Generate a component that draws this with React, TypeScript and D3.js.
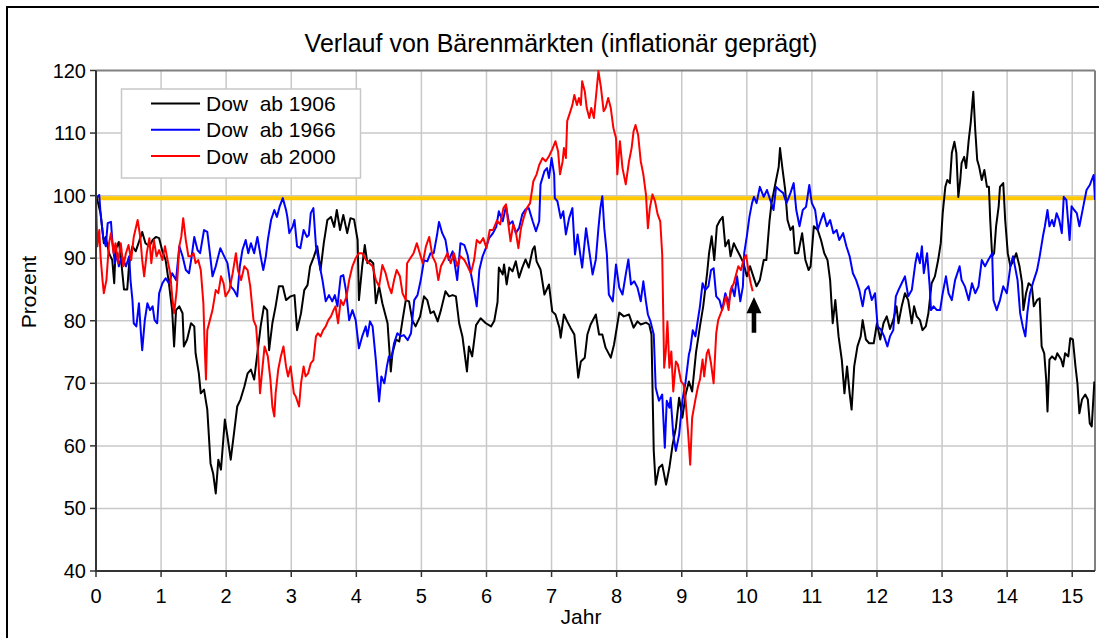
import React from 'react';
import * as d3 from 'd3';

// ---- Data (Jahr, Prozent) ----
const black1906T = [0,0.02,0.07,0.12,0.15,0.2,0.25,0.28,0.3,0.35,0.38,0.43,0.48,0.51,0.56,0.61,0.66,0.71,0.76,0.82,0.87,0.92,0.97,1.02,1.07,1.12,1.17,1.2,1.23,1.28,1.33,1.35,1.4,1.46,1.51,1.53,1.58,1.61,1.66,1.71,1.76,1.8,1.84,1.88,1.92,1.98,2.02,2.07,2.12,2.17,2.22,2.28,2.33,2.38,2.43,2.48,2.53,2.58,2.63,2.66,2.71,2.76,2.81,2.87,2.92,2.99,3.05,3.09,3.15,3.2,3.25,3.29,3.35,3.4,3.45,3.5,3.555,3.61,3.66,3.7,3.75,3.8,3.86,3.91,3.965,4.02,4.04,4.09,4.13,4.17,4.21,4.26,4.3,4.35,4.4,4.48,4.53,4.555,4.61,4.66,4.71,4.76,4.81,4.86,4.91,4.98,5.04,5.09,5.14,5.19,5.25,5.3,5.37,5.425,5.48,5.53,5.58,5.63,5.7,5.73,5.78,5.84,5.91,5.99,6.07,6.12,6.17,6.19,6.25,6.27,6.31,6.35,6.4,6.45,6.5,6.55,6.6,6.65,6.71,6.74,6.77,6.83,6.89,6.96,7.01,7.06,7.12,7.14,7.19,7.24,7.29,7.35,7.41,7.45,7.51,7.55,7.6,7.68,7.73,7.78,7.83,7.91,7.96,8.04,8.11,8.19,8.26,8.32,8.37,8.45,8.5,8.535,8.57,8.6,8.65,8.7,8.76,8.81,8.86,8.91,8.96,9.01,9.06,9.11,9.16,9.22,9.28,9.33,9.39,9.42,9.46,9.5,9.54,9.59,9.63,9.67,9.72,9.75,9.8,9.85,9.9,9.95,10,10.05,10.1,10.15,10.2,10.26,10.3,10.35,10.38,10.45,10.49,10.51,10.55,10.59,10.625,10.67,10.71,10.74,10.79,10.85,10.9,10.95,10.98,11.03,11.09,11.14,11.19,11.24,11.28,11.32,11.36,11.41,11.46,11.5,11.54,11.58,11.61,11.65,11.7,11.75,11.78,11.83,11.88,11.95,12,12.05,12.1,12.15,12.2,12.25,12.3,12.33,12.38,12.43,12.48,12.535,12.57,12.61,12.66,12.7,12.75,12.79,12.84,12.89,12.94,12.98,13.01,13.05,13.08,13.12,13.15,13.19,13.22,13.25,13.28,13.3,13.34,13.37,13.41,13.44,13.48,13.51,13.54,13.57,13.61,13.65,13.69,13.72,13.74,13.77,13.8,13.83,13.87,13.89,13.94,13.97,14.01,14.05,14.1,14.14,14.19,14.23,14.25,14.29,14.33,14.38,14.41,14.46,14.5,14.53,14.57,14.6,14.62,14.65,14.69,14.74,14.77,14.83,14.86,14.89,14.94,14.97,15.01,15.05,15.08,15.11,15.15,15.2,15.24,15.27,15.3,15.34];
const black1906V = [100,99.3,97.2,92.4,93.4,90.8,89.7,86,91.3,92.6,90.3,85,85,89.2,91.9,91.1,92.6,94.2,92.4,91.9,92.9,93.4,93.2,91.1,89.7,86,81.7,75.9,81.7,82.3,81.2,75.9,77,79.6,79.1,74.8,71.6,68.4,69,65.8,57.2,55.6,52.4,57.8,56.2,64.2,61.5,57.8,62,66.3,67.4,69.5,71.6,72.2,70.6,74.8,79.1,82.3,81.7,75.3,79.6,82.3,85.5,85.5,83.3,83.9,84.1,78.5,81.2,84.9,85.7,88.7,90.3,91.9,88.1,92.4,96.1,96.6,95,97.7,94.5,96.9,94,96.4,96.2,92.9,83.3,88.7,92.1,89.2,89.7,89.2,82.8,85.5,82.8,79.6,71.9,74.8,77,76.7,80.1,83.3,83.1,80.1,79.1,80.7,83.9,83.3,81.2,81.5,79.9,81.7,84.7,83.9,84.1,83.9,79.6,77.5,71.9,75.9,74.3,79.3,80.4,79.6,79.1,80,83,88.5,87.4,89,85.8,88.5,87.9,89.5,86.9,88.5,89.8,88.5,91.4,91.9,89.5,88.2,84.2,85.8,81.5,81,78.9,77.3,81,79.9,78.9,77.8,70.9,73.5,74.1,77.8,79.4,81,77.8,77.8,75.7,74.1,76.2,81.3,80.7,81,78.9,79.9,79.4,79.7,79.4,77.8,59.2,53.8,56.5,57,53.8,56.5,60.2,62.9,67.7,64.5,68.2,70.3,68.7,75,79.1,82.3,87.6,90.8,93.5,89.7,95.1,96.1,96.6,91.9,92.9,90.3,92.4,91.3,90.3,89.2,87.1,88.7,87.1,85.5,86.5,89.7,89.7,96.1,98.8,102.5,104.6,107.6,104.1,100.9,96.1,94.5,95.1,90.8,90.8,94,89.7,88.1,88.7,95.1,94.5,92.9,90.8,89.7,86.5,79.6,83.3,77.5,73.7,68.4,72.7,68.4,65.8,72.7,75.9,77.5,80.1,77,76.4,76.4,79.6,77,79.6,80.7,78.7,80.1,82.3,79.6,82.3,84.4,83.3,79.6,82.3,80.7,80.1,78.5,79.1,81.2,86,87.1,89.7,92.4,97.2,101.4,102.5,102,106.8,108.6,106.8,99.8,102.5,105.2,106.2,104.4,108.9,111.6,116.6,110.5,105.7,104.6,102.5,104.1,101.4,101.4,96.1,90.3,90.8,95.1,98.3,101.4,102,96.1,90.8,88.7,89.7,90.8,88.7,86,81.7,84.4,86,85.5,82.3,83.3,83.6,75.9,74.8,70.6,65.5,73.8,74.3,73.8,74.8,73.8,72.7,74.8,74.3,77.2,77,72.7,70,65.2,67.4,68.2,67.4,63.6,63.1,70.3];

const blue1966T = [0,0.05,0.07,0.11,0.15,0.18,0.23,0.25,0.29,0.33,0.35,0.4,0.46,0.51,0.53,0.56,0.58,0.62,0.66,0.69,0.71,0.75,0.79,0.83,0.87,0.9,0.94,0.97,1.02,1.07,1.12,1.17,1.23,1.28,1.33,1.38,1.43,1.47,1.51,1.56,1.6,1.66,1.71,1.75,1.79,1.84,1.91,1.97,2.02,2.07,2.12,2.17,2.21,2.25,2.3,2.34,2.38,2.43,2.48,2.53,2.57,2.61,2.64,2.69,2.74,2.78,2.82,2.87,2.92,2.94,2.97,3.02,3.05,3.09,3.14,3.19,3.24,3.27,3.3,3.34,3.38,3.43,3.48,3.53,3.58,3.63,3.67,3.71,3.76,3.8,3.84,3.89,3.94,3.99,4.04,4.09,4.145,4.17,4.21,4.25,4.3,4.35,4.385,4.43,4.47,4.5,4.54,4.58,4.63,4.68,4.73,4.79,4.84,4.89,4.94,4.99,5.04,5.09,5.14,5.19,5.24,5.27,5.32,5.37,5.42,5.48,5.51,5.55,5.6,5.66,5.71,5.76,5.81,5.85,5.89,5.94,5.99,6.04,6.1,6.15,6.19,6.25,6.3,6.35,6.4,6.45,6.5,6.55,6.6,6.65,6.71,6.76,6.81,6.83,6.89,6.93,6.96,7,7.04,7.05,7.09,7.14,7.18,7.22,7.27,7.32,7.36,7.4,7.44,7.47,7.53,7.58,7.63,7.68,7.72,7.75,7.78,7.81,7.85,7.88,7.94,7.99,8.04,8.09,8.14,8.18,8.22,8.27,8.32,8.37,8.41,8.45,8.48,8.52,8.57,8.6,8.65,8.7,8.74,8.77,8.81,8.83,8.87,8.91,8.96,9.01,9.06,9.11,9.13,9.17,9.21,9.24,9.28,9.32,9.36,9.41,9.45,9.49,9.53,9.58,9.62,9.67,9.72,9.77,9.81,9.85,9.9,9.94,9.96,10,10.04,10.08,10.11,10.15,10.2,10.26,10.31,10.36,10.41,10.45,10.5,10.56,10.61,10.67,10.72,10.76,10.81,10.86,10.91,10.96,10.999,11.05,11.09,11.14,11.18,11.23,11.28,11.33,11.38,11.42,11.48,11.53,11.58,11.63,11.68,11.73,11.78,11.82,11.87,11.92,11.97,12.01,12.06,12.11,12.16,12.2,12.25,12.29,12.33,12.38,12.43,12.48,12.535,12.59,12.62,12.66,12.69,12.72,12.77,12.81,12.83,12.87,12.92,12.97,13.01,13.06,13.1,13.15,13.2,13.27,13.3,13.35,13.41,13.46,13.51,13.56,13.61,13.66,13.71,13.77,13.79,13.84,13.89,13.94,13.995,14.05,14.09,14.12,14.16,14.2,14.24,14.28,14.31,14.35,14.41,14.46,14.5,14.55,14.58,14.62,14.65,14.69,14.72,14.76,14.8,14.84,14.87,14.91,14.96,14.99,15.03,15.07,15.11,15.15,15.18,15.22,15.27,15.3,15.33,15.35];
const blue1966V = [99.6,100.1,97.2,93.4,91.9,95.6,95.8,92.9,89.2,90.8,88.7,90.3,88.7,90.3,86.5,83.3,79.6,79.1,82.8,78,75.3,80.1,82.8,81.7,82.3,80.1,79.6,84.4,86,86.8,86,87.6,86.5,91.9,90.3,88.1,87.6,90.3,93.4,91.3,90.8,94.5,94.2,90.8,87.1,88.7,91.6,90.3,89.2,85.5,84.9,83.9,88.7,91.3,92.9,90.8,92.4,90.8,93.4,90.3,88.1,90.3,92.9,96.1,97.7,96.6,98.2,99.6,97.7,96.6,94,95,96.1,91.9,91.6,94.5,93.4,93.7,97.2,98,91.9,89.2,86.5,83.1,84.1,83.1,84.1,82.3,87.1,87.3,84.9,80.1,81.7,80.1,75.6,77.5,79.1,77.5,79.9,79.1,73.7,67.1,71.1,70,72.7,74.3,74,76.4,78,77.5,77.7,76.9,78,83.3,84.1,86.5,89.7,89.5,90.8,90.8,93.7,95.8,94,92.9,89.7,91.1,89.2,86.5,92.4,92.1,90.5,87.6,84.9,82.3,88.1,90.3,91.6,93.2,94,95,97.5,95.9,98.3,95.4,95.9,94,94.8,97,97.8,98,95.9,94.3,95.9,101.8,103.9,104.4,102.8,106,103.4,99.6,99.1,96.4,97.5,93.8,96.4,98,90.6,93.8,90.6,88.5,94.8,91.1,87.4,89.8,94.8,98,99.9,94.8,90.6,84.2,83.1,89,85.3,84.2,87.4,89.8,85.8,86.3,85.3,83.1,86.3,83.1,81,79.9,77.8,69.3,67.2,68.2,59.7,67.2,66.1,67.7,61.8,59.2,61.8,67.2,70.3,74.6,75.4,78.5,77.5,79.6,82.3,86,84.9,85.5,88.1,88.4,83.9,83.3,81.7,84.4,82.8,85.5,83.9,87.1,83.1,85.5,90.8,93.5,96.6,98.8,99.8,98.8,101.4,99.8,100.9,99.3,97.7,101.4,100.9,100.4,98.8,100.4,102,97.7,95.1,97.7,98.2,101.7,98.8,97.7,94.5,96.1,97.2,95.1,96.1,94,94.5,92.9,94,91.9,90.3,87.6,86.5,84.9,82.3,84.9,85.5,83.3,84.4,79.1,78.6,77.5,75.9,77.5,78.5,83.9,84.9,86,87.1,83.9,84.9,89.2,90.8,89.2,91.9,87.6,90.8,85.5,81.7,82.3,81.7,81.7,84.4,87.1,84.4,83.3,86.5,88.7,86.5,85.5,83.3,86,84.4,85.5,89.7,88.7,89.7,90.8,83.3,81.7,83.3,85.5,84.4,88.7,90.3,88.7,86.5,81.2,79.1,77.5,81.2,84.4,86.5,88.1,90.3,93.5,95.1,97.7,95.1,96.1,95.1,97.2,96.1,94,99.8,99.3,92.9,98.3,97.7,97.2,95.1,97.2,98.8,100.9,101.7,102.5,103.3,99.3];

const red2000T = [0,0.02,0.05,0.07,0.1,0.12,0.16,0.2,0.23,0.27,0.3,0.34,0.38,0.42,0.46,0.5,0.54,0.58,0.64,0.68,0.71,0.74,0.78,0.82,0.85,0.89,0.93,0.97,1.02,1.06,1.1,1.14,1.17,1.2,1.24,1.28,1.31,1.34,1.38,1.42,1.46,1.5,1.53,1.57,1.61,1.65,1.67,1.69,1.71,1.75,1.79,1.84,1.88,1.92,1.96,1.99,2.05,2.1,2.15,2.18,2.23,2.28,2.33,2.37,2.42,2.46,2.49,2.52,2.56,2.59,2.64,2.68,2.71,2.74,2.76,2.8,2.84,2.88,2.92,2.95,2.99,3.04,3.07,3.12,3.15,3.19,3.22,3.26,3.3,3.34,3.38,3.41,3.45,3.49,3.53,3.57,3.61,3.65,3.68,3.72,3.76,3.8,3.85,3.89,3.94,3.99,4.04,4.09,4.15,4.2,4.25,4.3,4.35,4.4,4.45,4.5,4.54,4.58,4.62,4.67,4.71,4.76,4.78,4.83,4.88,4.93,4.96,5.02,5.07,5.12,5.17,5.22,5.26,5.3,5.35,5.4,5.45,5.5,5.55,5.6,5.66,5.71,5.76,5.81,5.85,5.9,5.95,6,6.05,6.1,6.16,6.21,6.26,6.3,6.33,6.37,6.41,6.45,6.49,6.53,6.57,6.62,6.67,6.72,6.77,6.81,6.86,6.91,6.96,7.01,7.06,7.1,7.13,7.17,7.19,7.22,7.24,7.29,7.32,7.35,7.39,7.42,7.45,7.47,7.51,7.54,7.58,7.61,7.65,7.695,7.72,7.76,7.8,7.83,7.87,7.91,7.95,7.99,8.01,8.05,8.09,8.14,8.19,8.23,8.26,8.29,8.33,8.37,8.41,8.45,8.48,8.51,8.55,8.59,8.63,8.67,8.7,8.73,8.755,8.78,8.81,8.84,8.87,8.91,8.94,8.99,9.03,9.06,9.1,9.13,9.16,9.21,9.25,9.28,9.32,9.345,9.385,9.41,9.45,9.49,9.53,9.56,9.6,9.64,9.68,9.72,9.75,9.8,9.84,9.87,9.91,9.95,9.99,10.03,10.06,10.09];
const red2000V = [99.6,91.9,94.5,90.3,86.5,84.4,86.5,92.4,94,90.8,92.4,89.2,92.4,88.7,90.8,92.1,89.7,93.4,96.1,93.4,89.7,87.1,90.8,93.2,89.2,92.9,90.3,91.3,89.7,91.9,89.7,87.6,83.9,81.2,84.9,91.9,93.4,96.4,92.9,90.3,90.3,90.8,89.2,89.7,88.1,82.8,75.9,70.6,78.5,80.1,81.7,84.9,84.4,87.1,86,83.9,84.9,87.6,90.8,88.1,86.5,88.7,88.1,85.5,80.1,79.1,74.8,68.4,72.7,75.9,74.3,70.6,66.3,64.7,68.4,72.2,74.3,75.9,72.7,71.1,72.7,68.4,67.9,66.3,70,72.7,71.1,71.6,73.2,73.7,77.5,78,77.5,78.5,79.1,80.1,80.7,81.7,82.3,79.6,83.3,82.5,83.9,86.5,88.7,90,90.8,90.8,89.7,89.2,88.7,86.5,85.5,88.9,87.6,85.5,84.4,86.5,88.1,87.1,84.4,83.3,89.2,90,90.8,92.4,91.3,89.2,91.9,93.4,90.3,89.2,86.5,88.7,89.7,90.8,89.2,90.8,88.7,90.3,89.7,88.7,87.6,89.7,92.9,92.4,93.2,91.6,94.5,94.5,96,95.4,98,98.6,95.9,92.7,95.4,94.3,91.6,94.8,96.4,98,98.8,102.3,103.4,104.9,106,105.5,106.3,107.4,108.7,107.1,103.4,105.5,107.6,106,111.9,113.5,114.5,116.1,114.5,115.6,114.5,118.3,116.7,114,112.4,114,112.4,117.2,119.9,117.2,113.5,114,115.6,114,110.8,109.2,103.4,108.7,104.4,101.8,105.5,107.6,110.3,111.3,109.7,105.5,103.4,100.2,94.8,98,100.2,99.1,97,95.9,90.6,72.5,75.1,79.9,72.5,75.1,68.7,73.5,73,70.3,69.8,67.2,61.8,57,64.5,67.4,69.5,70.6,73.8,71.1,74.8,75.4,73.2,70,78,80.1,81.2,82.3,83.9,81.7,84.9,86,87.6,88.7,88.1,89.7,90.5,87.6,86,84.7];

const seriesNames = ['Dow  ab 1906', 'Dow  ab 1966', 'Dow  ab 2000'];
const xTickValues = [0,1,2,3,4,5,6,7,8,9,10,11,12,13,14,15];
const yTickValues = [40,50,60,70,80,90,100,110,120];
const referenceLevel = 99.6;
const arrowAt = { t: 10.11, tip: 83.8, head: 81.2, bottom: 78.1 };

const FONT = '"Liberation Sans", Arial, Helvetica, sans-serif';

export default function App() {
  const left = 96, right = 1095, top = 70.5, bottom = 571;
  const x = d3.scaleLinear().domain([0, 15.35]).range([left, right]);
  const y = d3.scaleLinear().domain([40, 120]).range([bottom, top]);
  const line = d3.line<[number, number]>().x(d => x(d[0])).y(d => y(d[1]));
  const zip = (t: number[], v: number[]) => t.map((ti, i) => [ti, v[i]] as [number, number]);

  const series = [
    { name: seriesNames[0], color: '#000000', data: zip(black1906T, black1906V) },
    { name: seriesNames[1], color: '#0000ff', data: zip(blue1966T, blue1966V) },
    { name: seriesNames[2], color: '#ff0000', data: zip(red2000T, red2000V) },
  ];

  const ax = x(arrowAt.t);
  const arrowPts = [
    [ax, y(arrowAt.tip)], [ax + 7.5, y(arrowAt.head)], [ax + 2.3, y(arrowAt.head)],
    [ax + 2.3, y(arrowAt.bottom)], [ax - 2.3, y(arrowAt.bottom)], [ax - 2.3, y(arrowAt.head)],
    [ax - 7.5, y(arrowAt.head)],
  ].map(p => p.join(',')).join(' ');

  const legendX = 121.5, legendY = 89, legendW = 239, legendH = 89;

  return (
    <svg width={1099} height={638} style={{ position: 'absolute', left: 0, top: 0, background: '#fff' }} fontFamily={FONT}>
      <rect x={0} y={0} width={1099} height={638} fill="#fff" />
      <rect x={7} y={7} width={1200} height={800} fill="none" stroke="#000" strokeWidth={2} />
      <text x={561} y={52} fontSize={25} textAnchor="middle" fill="#000">Verlauf von Bärenmärkten (inflationär geprägt)</text>

      <defs>
        <clipPath id="plotClip"><rect x={left} y={top - 3} width={right - left} height={bottom - top + 3} /></clipPath>
      </defs>

      {/* grid */}
      {xTickValues.filter(t => t > 0).map(t => (
        <line key={'gx' + t} x1={x(t)} x2={x(t)} y1={top} y2={bottom} stroke="#c8c8c8" strokeWidth={1.5} />
      ))}
      {yTickValues.filter(v => v > 40 && v < 120).map(v => (
        <line key={'gy' + v} x1={left} x2={right} y1={y(v)} y2={y(v)} stroke="#c8c8c8" strokeWidth={1.5} />
      ))}
      {/* plot border top/right */}
      <line x1={left} x2={right} y1={top} y2={top} stroke="#808080" strokeWidth={2} />
      <line x1={right} x2={right} y1={top} y2={bottom} stroke="#808080" strokeWidth={2} />

      {/* legend */}
      <rect x={legendX} y={legendY} width={legendW} height={legendH} fill="#fff" stroke="#c8c8c8" strokeWidth={1.5} />
      {series.map((s, i) => (
        <g key={'lg' + i}>
          <line x1={151} x2={200} y1={103.5 + i * 26.3} y2={103.5 + i * 26.3} stroke={s.color} strokeWidth={2} />
          <text x={206} y={103.5 + i * 26.3 + 7.5} fontSize={21} fill="#000" style={{ whiteSpace: 'pre' }}>{s.name}</text>
        </g>
      ))}

      {/* reference line */}
      <line x1={left} x2={right} y1={y(referenceLevel)} y2={y(referenceLevel)} stroke="#ffc800" strokeWidth={4} />

      {/* series */}
      <g clipPath="url(#plotClip)">
        {series.map((s, i) => (
          <path key={'s' + i} d={line(s.data) || ''} fill="none" stroke={s.color} strokeWidth={2} strokeLinejoin="round" />
        ))}
      </g>

      {/* arrow */}
      <polygon points={arrowPts} fill="#000" />

      {/* axes */}
      <line x1={left} x2={left} y1={top} y2={bottom + 1} stroke="#333" strokeWidth={2} />
      <line x1={left - 1} x2={right} y1={bottom} y2={bottom} stroke="#333" strokeWidth={2} />
      {yTickValues.map(v => (
        <g key={'yt' + v}>
          <line x1={left - 6} x2={left} y1={y(v)} y2={y(v)} stroke="#333" strokeWidth={1.5} />
          <text x={86} y={y(v) + 7} fontSize={20} textAnchor="end" fill="#000">{v}</text>
        </g>
      ))}
      {xTickValues.map(t => (
        <g key={'xt' + t}>
          <line x1={x(t)} x2={x(t)} y1={bottom} y2={bottom + 6} stroke="#333" strokeWidth={1.5} />
          <text x={x(t)} y={603} fontSize={20} textAnchor="middle" fill="#000">{t}</text>
        </g>
      ))}
      <text x={581} y={624} fontSize={21} textAnchor="middle" fill="#000">Jahr</text>
      <text transform={`translate(36,292) rotate(-90)`} fontSize={21} textAnchor="middle" fill="#000">Prozent</text>
    </svg>
  );
}
